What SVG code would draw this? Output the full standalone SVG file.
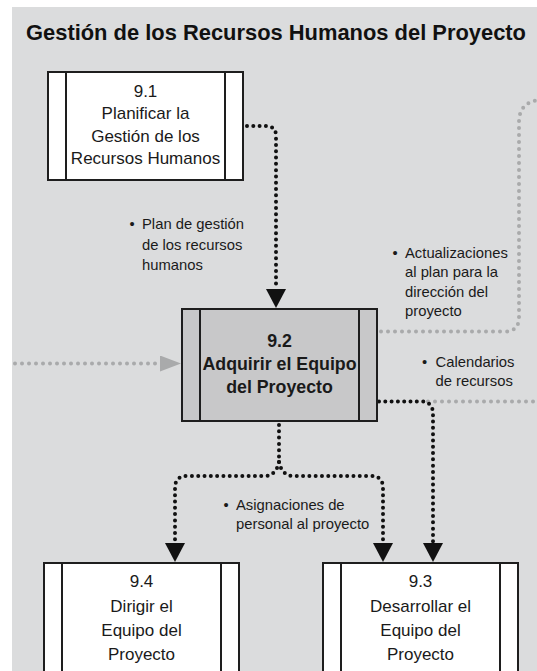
<svg xmlns="http://www.w3.org/2000/svg" width="537" height="671" viewBox="0 0 537 671">
  <style>
    .bg { fill: #dbdcdd; }
    .box { fill: #ffffff; stroke: #1e1e1e; stroke-width: 2; }
    .box.active { fill: #c8c8c9; }
    .div { stroke: #1e1e1e; stroke-width: 2; fill: none; }
    .ntext { font-family: "Liberation Sans", Arial, sans-serif; font-size: 17px; fill: #1a1a1a; text-anchor: middle; }
    .ntext.bold { font-weight: bold; font-size: 17.8px; }
    .lbl { font-family: "Liberation Sans", Arial, sans-serif; font-size: 14.8px; fill: #1a1a1a; }
    .title { font-family: "Liberation Sans", Arial, sans-serif; font-size: 22px; font-weight: bold; fill: #111111; }
    .flow { fill: none; stroke: #111111; stroke-width: 4; stroke-linecap: round; stroke-dasharray: 0 6.3; }
    .flow.ext { stroke: #a9aaab; stroke-dasharray: 0 7; }
  </style>
  <defs>
    <marker id="arrowBlack" viewBox="0 0 19 20" refX="0" refY="10" markerUnits="userSpaceOnUse" markerWidth="19" markerHeight="20" orient="auto">
      <path d="M0,0 L19,10 L0,20 z" fill="#111111"/>
    </marker>
    <marker id="arrowGray" viewBox="0 0 21 16" refX="0" refY="8" markerUnits="userSpaceOnUse" markerWidth="21" markerHeight="16" orient="auto">
      <path d="M0,0 L21,8 L0,16 z" fill="#a9aaab"/>
    </marker>
  </defs>

  <!-- panel background -->
  <rect class="bg" x="12" y="7" width="525" height="664"/>
  <text class="title" x="26" y="40" textLength="500" lengthAdjust="spacingAndGlyphs">Gestión de los Recursos Humanos del Proyecto</text>

  <!-- connectors -->
  <g id="connectors">
    <!-- 9.1 -> 9.2 -->
    <path class="flow" d="M247,126 H266 Q276,126 276,136 V289" marker-end="url(#arrowBlack)"/>
    <!-- external input -> 9.2 -->
    <path class="flow ext" d="M15,363.5 H160" marker-end="url(#arrowGray)"/>
    <!-- 9.2 -> plan updates (exits top right) -->
    <path class="flow ext" d="M381,331.5 H505 Q519,331.5 519,317 V122 Q519,102 540,100"/>
    <!-- 9.2 -> resource calendars (exits right) -->
    <path class="flow ext" d="M428,401.5 H540"/>
    <!-- 9.2 -> 9.3 via resource calendars -->
    <path class="flow" d="M379,401.5 H421 Q433,401.5 433,414 V543" marker-end="url(#arrowBlack)"/>
    <!-- 9.2 -> staff assignments, splits to 9.4 and 9.3 -->
    <path class="flow" d="M279,425 V462"/>
    <path class="flow" d="M279,462 Q276,476 264,476 H187 Q175,476 175,488 V543" marker-end="url(#arrowBlack)"/>
    <path class="flow" d="M279,462 Q282,476 294,476 H371 Q383,476 383,488 V543" marker-end="url(#arrowBlack)"/>
  </g>

  <!-- flow labels -->
  <g id="labels">
    <text class="lbl"><tspan x="129.5" y="229">•</tspan><tspan x="142" y="229">Plan de gestión</tspan><tspan x="142" y="249.5">de los recursos</tspan><tspan x="142" y="270">humanos</tspan></text>
    <text class="lbl"><tspan x="392.5" y="257.5">•</tspan><tspan x="405" y="257.5">Actualizaciones</tspan><tspan x="405" y="277">al plan para la</tspan><tspan x="405" y="296.5">dirección del</tspan><tspan x="405" y="316">proyecto</tspan></text>
    <text class="lbl"><tspan x="422" y="366.5">•</tspan><tspan x="435.5" y="366.5">Calendarios</tspan><tspan x="435.5" y="386">de recursos</tspan></text>
    <text class="lbl"><tspan x="223.5" y="509.5">•</tspan><tspan x="236" y="509.5">Asignaciones de</tspan><tspan x="236" y="529">personal al proyecto</tspan></text>
  </g>

  <!-- process 9.1 -->
  <g id="node-9-1">
    <rect class="box" x="48" y="72" width="195" height="108"/>
    <path class="div" d="M66,72 V180 M225,72 V180"/>
    <text class="ntext"><tspan x="145.5" y="97">9.1</tspan><tspan x="145.5" y="119">Planificar la</tspan><tspan x="145.5" y="141.5">Gestión de los</tspan><tspan x="145.5" y="163.5">Recursos Humanos</tspan></text>
  </g>

  <!-- process 9.2 (current) -->
  <g id="node-9-2">
    <rect class="box active" x="182" y="309" width="195" height="112"/>
    <path class="div" d="M200,309 V421 M359,309 V421"/>
    <text class="ntext bold"><tspan x="279.5" y="347">9.2</tspan><tspan x="279.5" y="370">Adquirir el Equipo</tspan><tspan x="279.5" y="393">del Proyecto</tspan></text>
  </g>

  <!-- process 9.4 -->
  <g id="node-9-4">
    <rect class="box" x="44" y="563" width="195" height="120"/>
    <path class="div" d="M62,563 V683 M221,563 V683"/>
    <text class="ntext"><tspan x="141.5" y="587">9.4</tspan><tspan x="141.5" y="612">Dirigir el</tspan><tspan x="141.5" y="636">Equipo del</tspan><tspan x="141.5" y="660">Proyecto</tspan></text>
  </g>

  <!-- process 9.3 -->
  <g id="node-9-3">
    <rect class="box" x="323" y="563" width="195" height="120"/>
    <path class="div" d="M341,563 V683 M500,563 V683"/>
    <text class="ntext"><tspan x="420.5" y="587">9.3</tspan><tspan x="420.5" y="612">Desarrollar el</tspan><tspan x="420.5" y="636">Equipo del</tspan><tspan x="420.5" y="660">Proyecto</tspan></text>
  </g>
</svg>
